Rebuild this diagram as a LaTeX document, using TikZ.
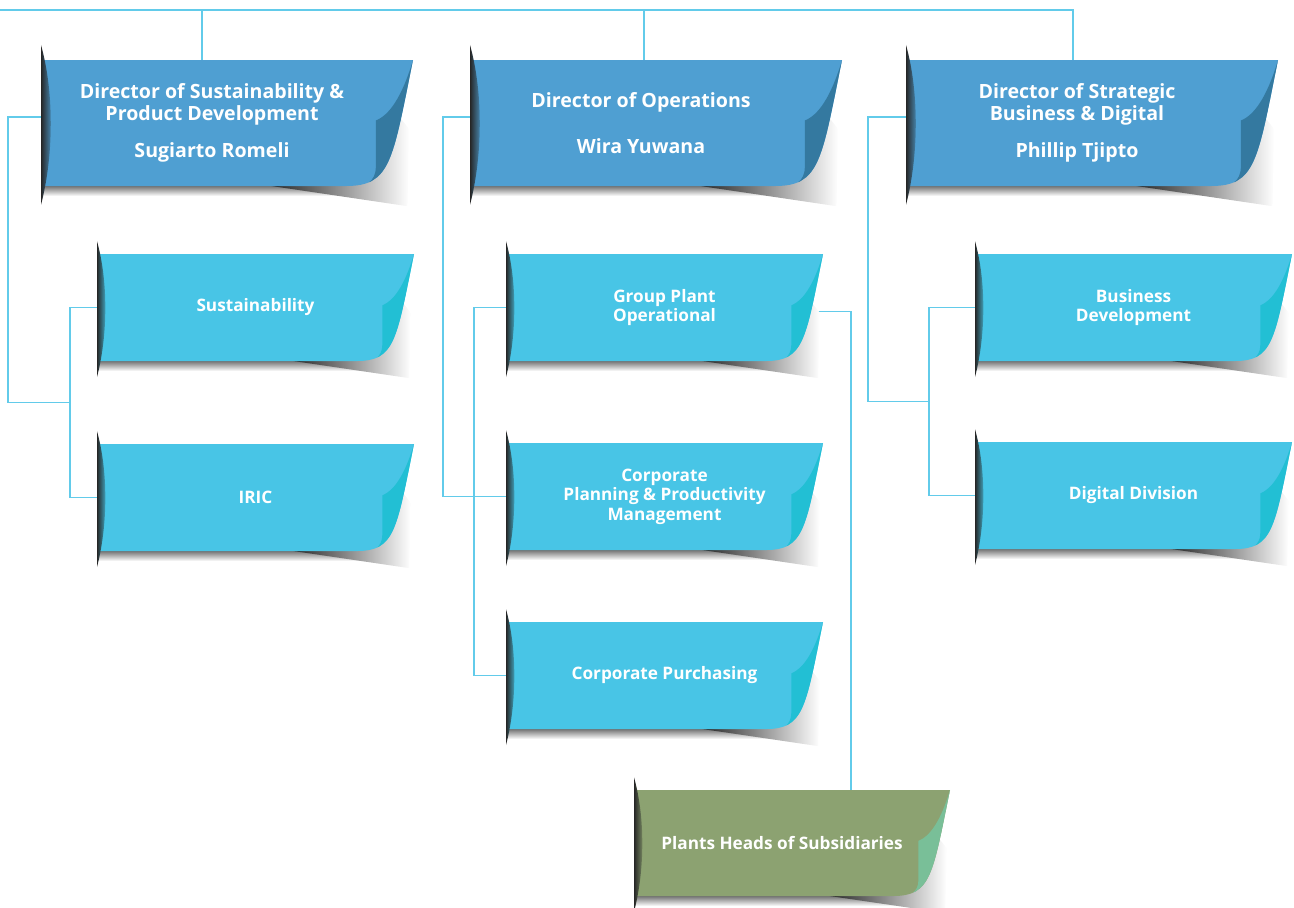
\documentclass[tikz,border=0pt]{standalone}
\usepackage{fontspec}
\setmainfont{Open Sans}
\usetikzlibrary{positioning,calc}

\definecolor{dirblue}{HTML}{4F9FD2}
\definecolor{dirflap}{HTML}{3479A0}
\definecolor{unitblue}{HTML}{48C5E6}
\definecolor{unitflap}{HTML}{22BFD4}
\definecolor{plantgreen}{HTML}{8CA271}
\definecolor{plantflap}{HTML}{79BF98}
\definecolor{linkblue}{HTML}{62CBEA}

\pgfdeclarelayer{links}
\pgfdeclarelayer{cards}
\pgfsetlayers{links,cards,main}

% curled card behind a node: node, width, height (px), fill, flap
\newcommand{\cardback}[5]{%
  \begin{pgfonlayer}{cards}
  \begin{scope}[shift={(#1.north west)}]
    \pgfmathsetmacro\cw{#2}\pgfmathsetmacro\ch{#3}
    % shadows
    \shade[top color=black!55, bottom color=white] (0,\ch) rectangle ({0.85*\cw},{\ch+10});
    \shade[left color=black!85, right color=white] ({0.62*\cw},\ch) -- ({0.95*\cw},{0.4*\ch}) -- ({0.99*\cw},{0.55*\ch}) -- ({0.985*\cw},{1.16*\ch}) -- cycle;
    % card
    \fill[#4] (0,0) -- (\cw,0) .. controls ({0.945*\cw},{0.8*\ch}) and ({0.94*\cw},\ch) .. ({0.82*\cw},\ch) -- (0,\ch) -- cycle;
    \begin{scope}
      \clip (0,0) -- (\cw,0) .. controls ({0.945*\cw},{0.8*\ch}) and ({0.94*\cw},\ch) .. ({0.82*\cw},\ch) -- (0,\ch) -- cycle;
      \fill[#5] (\cw,0) .. controls ({0.97*\cw},{0.3*\ch}) and ({0.935*\cw},{0.44*\ch}) .. ({0.9*\cw},{0.48*\ch})
        -- ({0.9*\cw},{0.85*\ch}) .. controls ({0.9*\cw},{0.97*\ch}) and ({0.87*\cw},\ch) .. ({0.84*\cw},{1.02*\ch})
        -- ({1.1*\cw},{1.1*\ch}) -- ({1.1*\cw},-2) -- cycle;
    \end{scope}
    % dark left edge
    \shade[left color=black!85, right color=#4] (0,{-0.12*\ch}) .. controls ({0.035*\cw},{0.25*\ch}) and ({0.035*\cw},{0.75*\ch}) .. (0,{1.15*\ch}) -- cycle;
  \end{scope}
  \end{pgfonlayer}}

\tikzset{
  card/.style={inner sep=0pt, outer sep=0pt, text=white, align=center},
  dirbox/.style={card, minimum width=171pt, minimum height=63pt,
    font=\bfseries\fontsize{9.8}{11}\selectfont},
  unitbox/.style={card, minimum width=158.5pt, minimum height=53.5pt,
    font=\bfseries\fontsize{8.6}{9.8}\selectfont},
  plantbox/.style={card, minimum width=148pt, minimum height=53pt,
    font=\bfseries\fontsize{8.6}{9.8}\selectfont},
  link/.style={draw=linkblue, line width=0.9pt},
}

\begin{document}
\begin{tikzpicture}[x=0.5pt, y=-0.5pt]
  \useasboundingbox (0,0) rectangle (1294,907);

  % directors
  \node[dirbox] (dirsust) at (212,123) {Director of Sustainability \&\\Product Development\\[7.5pt]Sugiarto Romeli};
  \node[dirbox] (dirops) at (641,123) {Director of Operations\\[12pt]Wira Yuwana};
  \node[dirbox] (dirstrat) at (1077,123) {Director of Strategic\\Business \& Digital\\[7.5pt]Phillip Tjipto};

  % units
  \node[unitbox] (sust) at (255.5,307.5) {Sustainability};
  \node[unitbox] (iric) at (255.5,497.5) {IRIC};
  \node[unitbox] (plantops) at (664.5,307.5) {Group Plant\\Operational};
  \node[unitbox] (corpplan) at (664.5,496.5) {Corporate\\Planning \& Productivity\\Management};
  \node[unitbox] (corppurch) at (664.5,675.5) {Corporate Purchasing};
  \node[unitbox] (bizdev) at (1133.5,307.5) {Business\\Development};
  \node[unitbox] (digital) at (1133.5,495.5) {Digital Division};
  \node[plantbox] (plantheads) at (782,843) {Plants Heads of Subsidiaries};

  \foreach \n in {dirsust,dirops,dirstrat}
    \cardback{\n}{372}{126}{dirblue}{dirflap};
  \foreach \n in {sust,iric,plantops,corpplan,corppurch,bizdev,digital}
    \cardback{\n}{317}{107}{unitblue}{unitflap};
  \cardback{plantheads}{316}{106}{plantgreen}{plantflap};

  % connectors
  \begin{pgfonlayer}{links}
    \coordinate (topleft) at (0,10);
    \draw[link] (topleft) -| ([xshift=-2pt]dirstrat.north);
    \draw[link] ([xshift=-5pt]dirsust.north) -- ([xshift=-5pt]dirsust.north |- topleft);
    \draw[link] ([xshift=1.5pt]dirops.north) -- ([xshift=1.5pt]dirops.north |- topleft);

    \coordinate (sustbus) at ($(sust.west)!.5!(iric.west)+(-27,0)$);
    \draw[link] ([yshift=3pt]dirsust.west) -- ++(-33,0) |- (sustbus);
    \draw[link] (sust.west) -- ++(-27,0) |- (iric.west);

    \draw[link] ([yshift=3pt]dirops.west) -- ++(-27,0) |- (corpplan.west);
    \draw[link] (plantops.west) -- ++(-32,0) |- (corppurch.west);
    \draw[link] ([xshift=-4pt,yshift=-2pt]plantops.east) -| ([xshift=34.5pt]plantheads.north);

    \coordinate (bizbus) at ($(bizdev.west)!.5!(digital.west)+(-46,0)$);
    \draw[link] ([yshift=3pt]dirstrat.west) -- ++(-38,0) |- (bizbus);
    \draw[link] (bizdev.west) -- ++(-46,0) |- (digital.west);
  \end{pgfonlayer}
\end{tikzpicture}
\end{document}
